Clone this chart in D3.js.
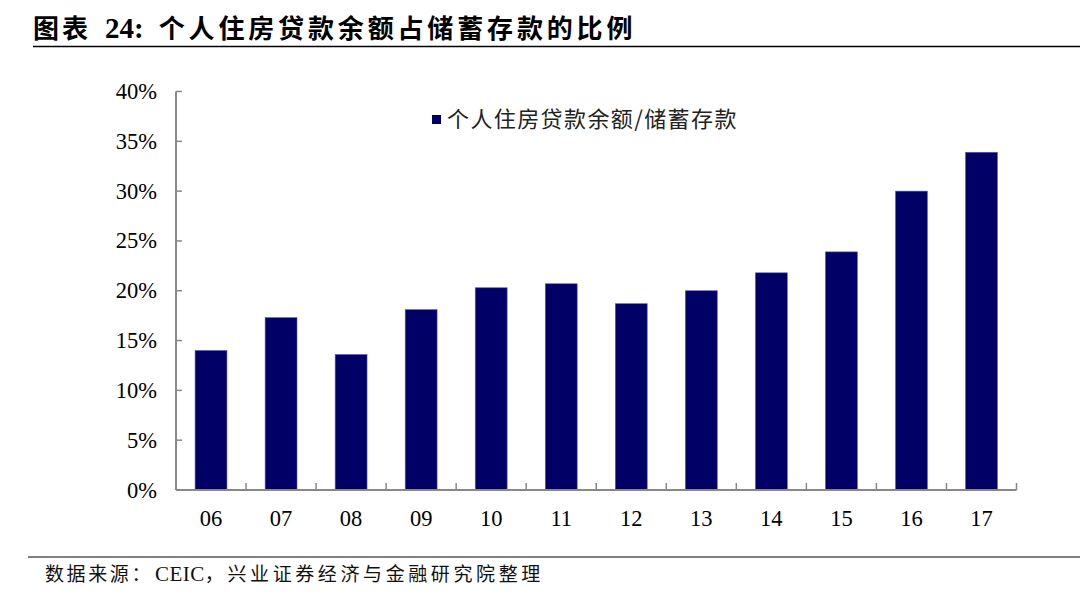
<!DOCTYPE html>
<html><head><meta charset="utf-8">
<script src="https://cdn.jsdelivr.net/npm/d3@7"></script>
<style>
html,body{margin:0;padding:0;background:#fff;}
svg{display:block;}
</style></head>
<body>
<svg id="chart" width="1080" height="592"></svg>
<script>
const categories = ["06","07","08","09","10","11","12","13","14","15","16","17"];
const values = [14.0, 17.3, 13.6, 18.1, 20.3, 20.7, 18.7, 20.0, 21.8, 23.9, 30.0, 33.9];
const yTicks = [0, 5, 10, 15, 20, 25, 30, 35, 40];
const seriesName = "个人住房贷款余额/储蓄存款";
const titleText = "个人住房贷款余额占储蓄存款的比例";

const svg = d3.select("#chart");
const plotL = 176, plotR = 1016.5, plotT = 91.5, plotB = 490;

const x = d3.scaleBand().domain(categories).range([plotL, plotR]).paddingInner(0.545).paddingOuter(0.2725);
const xb = d3.scaleBand().domain(categories).range([plotL, plotR]);
const y = d3.scaleLinear().domain([0, 40]).range([plotB, plotT]);

// Title
const t = svg.append("text").attr("x", 33).attr("y", 38)
  .attr("font-weight", "bold").attr("fill", "#000");
t.append("tspan").attr("font-family", "Noto Sans CJK SC").attr("font-size", 26).attr("letter-spacing", 3).text("图表");
t.append("tspan").attr("font-family", "Liberation Serif").attr("font-size", 29).attr("dx", 14).text("24:");
t.append("tspan").attr("font-family", "Noto Sans CJK SC").attr("font-size", 26)
  .attr("dx", 15).attr("letter-spacing", 3.85).text(titleText);
svg.append("line").attr("x1", 33).attr("x2", 1080).attr("y1", 46.5).attr("y2", 46.5)
  .attr("stroke", "#000").attr("stroke-width", 1.3);

// Bars
svg.append("g").selectAll("rect").data(values).join("rect")
  .attr("x", (d, i) => x(categories[i]))
  .attr("width", x.bandwidth())
  .attr("y", d => y(d))
  .attr("height", d => y(0) - y(d))
  .attr("fill", "#000066")
  .attr("stroke", "#5a5aa8").attr("stroke-width", 0.6);

// Y axis
const axisColor = "#888";
const gy = svg.append("g");
gy.append("line").attr("x1", plotL).attr("x2", plotL).attr("y1", y(40)).attr("y2", y(0))
  .attr("stroke", axisColor).attr("stroke-width", 2);
gy.selectAll("line.tk").data(yTicks).join("line").attr("class", "tk")
  .attr("x1", plotL).attr("x2", plotL + 6).attr("y1", d => y(d)).attr("y2", d => y(d))
  .attr("stroke", axisColor).attr("stroke-width", 1.5);
gy.selectAll("text").data(yTicks).join("text")
  .attr("x", 157).attr("y", d => y(d) + 7.5)
  .attr("text-anchor", "end").attr("font-family", "Liberation Serif").attr("font-size", 22.5)
  .attr("fill", "#000").text(d => d + "%");

// X axis
const gx = svg.append("g");
gx.append("line").attr("x1", plotL).attr("x2", plotR).attr("y1", y(0)).attr("y2", y(0))
  .attr("stroke", axisColor).attr("stroke-width", 2);
const bounds = categories.map(c => xb(c)).concat([plotR]);
gx.selectAll("line.tk").data(bounds).join("line").attr("class", "tk")
  .attr("x1", d => d).attr("x2", d => d).attr("y1", y(0)).attr("y2", y(0) - 7)
  .attr("stroke", axisColor).attr("stroke-width", 1.5);
gx.selectAll("text").data(categories).join("text")
  .attr("x", d => xb(d) + xb.bandwidth() / 2).attr("y", 526)
  .attr("text-anchor", "middle").attr("font-family", "Liberation Serif").attr("font-size", 22.5)
  .attr("fill", "#000").text(d => d);

// Legend
svg.append("rect").attr("x", 432).attr("y", 115).attr("width", 9).attr("height", 9).attr("fill", "#000066");
svg.append("text").attr("x", 447).attr("y", 127).attr("font-family", "Noto Sans CJK SC")
  .attr("font-size", 22).attr("letter-spacing", 1.4).attr("fill", "#222").text(seriesName);

// Source
svg.append("line").attr("x1", 28).attr("x2", 1080).attr("y1", 557).attr("y2", 557)
  .attr("stroke", "#000").attr("stroke-width", 1);
const s = svg.append("text").attr("x", 45).attr("y", 581).attr("fill", "#111");
s.append("tspan").attr("font-family", "Noto Sans CJK SC").attr("font-size", 19).attr("letter-spacing", 2.6).text("数据来源：");
s.append("tspan").attr("font-family", "Liberation Serif").attr("font-size", 21).attr("dx", 2).attr("letter-spacing", 0.5).text("CEIC");
s.append("tspan").attr("font-family", "Noto Sans CJK SC").attr("font-size", 19).attr("letter-spacing", 3.6).text("，兴业证券经济与金融研究院整理");
</script>
</body></html>
